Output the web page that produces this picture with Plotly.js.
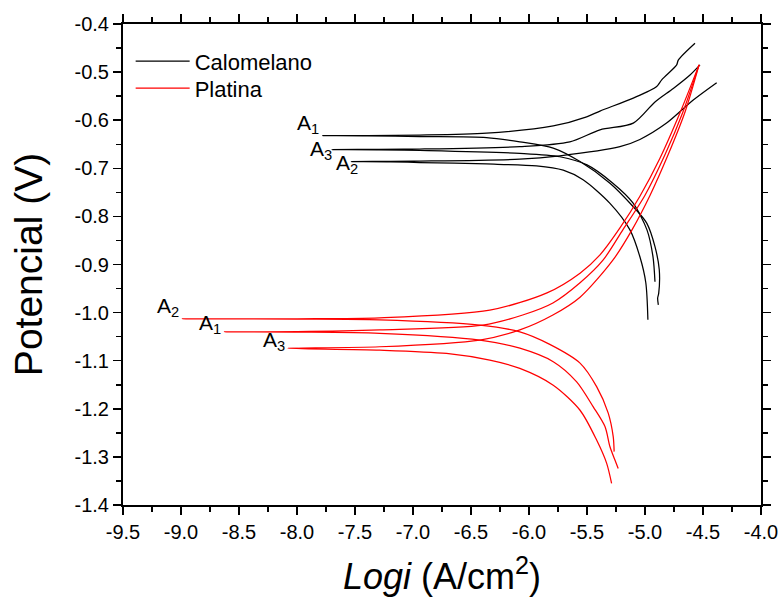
<!DOCTYPE html>
<html>
<head>
<meta charset="utf-8">
<script src="https://cdn.plot.ly/plotly-3.0.1.min.js"></script>
<style>html,body{margin:0;padding:0;background:#fff;}#chart{width:783px;height:606px;}</style>
</head>
<body>
<div id="chart"></div>
<script>
// Calomelano (reference electrode: calomel) — each curve: cathodic end -> corrosion tip -> anodic end
const calA1_logi = [-4.885,-4.891,-4.882,-4.877,-4.914,-4.985,-5.101,-5.302,-5.560,-5.791,-6.079,-6.366,-6.942,-7.393,-7.779,-7.393,-6.942,-6.366,-5.791,-5.503,-5.388,-5.101,-4.899,-4.856,-4.727,-4.713,-4.569];
const calA1_E    = [-0.984,-0.970,-0.960,-0.911,-0.863,-0.814,-0.780,-0.731,-0.686,-0.658,-0.645,-0.636,-0.634,-0.6325,-0.632,-0.6318,-0.631,-0.627,-0.612,-0.593,-0.581,-0.554,-0.530,-0.516,-0.485,-0.475,-0.440];

const calA3_logi = [-4.914,-4.931,-4.983,-5.104,-5.277,-5.500,-5.734,-6.079,-6.942,-7.294,-7.697,-7.294,-6.942,-6.079,-5.648,-5.388,-5.101,-4.914,-4.756,-4.612,-4.526];
const calA3_E    = [-0.936,-0.884,-0.828,-0.772,-0.731,-0.693,-0.676,-0.669,-0.663,-0.6615,-0.661,-0.6605,-0.660,-0.655,-0.645,-0.620,-0.606,-0.562,-0.534,-0.506,-0.485];

const calA2_logi = [-4.975,-4.993,-5.044,-5.130,-5.302,-5.534,-5.705,-5.935,-6.366,-6.942,-7.193,-7.531,-7.193,-6.942,-6.079,-5.734,-5.216,-5.044,-4.814,-4.584,-4.382];
const calA2_E    = [-1.015,-0.938,-0.884,-0.828,-0.773,-0.724,-0.704,-0.695,-0.691,-0.688,-0.6865,-0.686,-0.6855,-0.685,-0.681,-0.674,-0.655,-0.640,-0.606,-0.558,-0.522];

// Platina (reference electrode: platinum)
const ptA2_logi = [-5.266,-5.274,-5.317,-5.417,-5.560,-5.821,-6.079,-6.424,-7.287,-7.998,-8.988,-7.998,-7.287,-6.338,-5.845,-5.560,-5.388,-5.216,-5.044,-4.871,-4.699,-4.534];
const ptA2_E    = [-1.289,-1.258,-1.209,-1.154,-1.105,-1.066,-1.040,-1.026,-1.015,-1.0135,-1.013,-1.0128,-1.011,-0.995,-0.959,-0.918,-0.880,-0.824,-0.758,-0.679,-0.585,-0.485];

const ptA1_logi = [-5.231,-5.260,-5.302,-5.345,-5.446,-5.589,-5.791,-6.079,-6.424,-7.287,-7.998,-8.625,-7.998,-7.287,-6.398,-6.054,-5.794,-5.560,-5.362,-5.191,-5.000,-4.828,-4.673,-4.534];
const ptA1_E    = [-1.324,-1.306,-1.279,-1.237,-1.196,-1.144,-1.102,-1.074,-1.057,-1.043,-1.0405,-1.040,-1.0395,-1.036,-1.026,-1.005,-0.980,-0.938,-0.891,-0.828,-0.756,-0.672,-0.583,-0.485];

const ptA3_logi = [-5.288,-5.331,-5.417,-5.560,-5.791,-6.079,-6.338,-6.711,-7.287,-8.081,-7.287,-6.424,-6.079,-5.794,-5.560,-5.277,-5.112,-4.956,-4.801,-4.655,-4.534];
const ptA3_E    = [-1.355,-1.313,-1.265,-1.203,-1.151,-1.116,-1.099,-1.085,-1.078,-1.074,-1.071,-1.057,-1.036,-1.005,-0.968,-0.891,-0.828,-0.756,-0.672,-0.583,-0.485];

// curve labels (text + the curve tip they sit beside)
const labelText = ['A<sub>1</sub>','A<sub>3</sub>','A<sub>2</sub>','A<sub>2</sub>','A<sub>1</sub>','A<sub>3</sub>'];
const labelX = [-7.779,-7.697,-7.531,-8.988,-8.625,-8.081];
const labelY = [-0.632,-0.661,-0.686,-1.013,-1.040,-1.074];

const seriesNames = ['Calomelano','Platina'];
const xTickVals = [-9.5,-9.0,-8.5,-8.0,-7.5,-7.0,-6.5,-6.0,-5.5,-5.0,-4.5,-4.0];
const xTickText = ['-9.5','-9.0','-8.5','-8.0','-7.5','-7.0','-6.5','-6.0','-5.5','-5.0','-4.5','-4.0'];
const yTickVals = [-0.4,-0.5,-0.6,-0.7,-0.8,-0.9,-1.0,-1.1,-1.2,-1.3,-1.4];
const yTickText = ['-0.4','-0.5','-0.6','-0.7','-0.8','-0.9','-1.0','-1.1','-1.2','-1.3','-1.4'];

// layout only: pixel nudges for the curve labels
const labelXShift = [-2, 2, 9, -1, -2, -1];
const labelYShift = [12, 0, -2, 12, 8, 7];

const FONT = '"Liberation Sans", Arial, Helvetica, sans-serif';
const BLACK = '#000000', RED = '#ff0000';

function tr(x, y, color, name, show, legendId) {
  return {x: x, y: y, type: 'scatter', mode: 'lines', name: name,
    legendgroup: name, showlegend: show, legend: legendId,
    line: {color: color, width: 1.25, shape: 'spline', smoothing: 0.8},
    hoverinfo: 'x+y'};
}

const data = [
  tr(calA1_logi, calA1_E, BLACK, seriesNames[0], true, 'legend'),
  tr(calA3_logi, calA3_E, BLACK, seriesNames[0], false, 'legend'),
  tr(calA2_logi, calA2_E, BLACK, seriesNames[0], false, 'legend'),
  tr(ptA2_logi, ptA2_E, RED, seriesNames[1], true, 'legend2'),
  tr(ptA1_logi, ptA1_E, RED, seriesNames[1], false, 'legend2'),
  tr(ptA3_logi, ptA3_E, RED, seriesNames[1], false, 'legend2')
];

const annotations = labelText.map((t, i) => ({
  x: labelX[i], y: labelY[i], xref: 'x', yref: 'y', text: t, showarrow: false,
  xanchor: 'right', yanchor: 'middle', xshift: labelXShift[i], yshift: labelYShift[i],
  font: {family: FONT, size: 21, color: '#000'}
}));

const axisCommon = {
  showgrid: false, zeroline: false, showline: true, linecolor: '#000', linewidth: 2,
  mirror: 'allticks', ticks: 'outside', ticklen: 8, tickwidth: 1.5, tickcolor: '#000',
  tickfont: {family: FONT, size: 20, color: '#000'},
  tickmode: 'array'
};

const legendCommon = {xanchor: 'left', yanchor: 'top', bgcolor: 'rgba(0,0,0,0)',
  font: {family: FONT, size: 22, color: '#000'}, tracegroupgap: 0, itemwidth: 54};

const layout = {
  width: 783, height: 606,
  margin: {l: 123, r: 22, t: 24, b: 101, pad: 0},
  paper_bgcolor: '#fff', plot_bgcolor: '#fff',
  font: {family: FONT, color: '#000'},
  showlegend: true,
  legend: Object.assign({}, legendCommon, {x: 0.012, y: 0.966}),
  legend2: Object.assign({}, legendCommon, {x: 0.012, y: 0.91}),
  xaxis: Object.assign({}, axisCommon, {
    range: [-9.5, -4.0], tickvals: xTickVals, ticktext: xTickText,
    minor: {dtick: 0.25, ticks: 'outside', ticklen: 5, tickwidth: 1.5, tickcolor: '#000'},
    title: {text: '<i>Logi</i> (A/cm<sup>2</sup>)', font: {family: FONT, size: 36, color: '#000'}, standoff: 22}
  }),
  yaxis: Object.assign({}, axisCommon, {
    range: [-1.4, -0.4], tickvals: yTickVals, ticktext: yTickText,
    minor: {dtick: 0.05, ticks: 'outside', ticklen: 5, tickwidth: 1.5, tickcolor: '#000'},
    title: {text: 'Potencial (V)', font: {family: FONT, size: 39, color: '#000'}, standoff: 20}
  }),
  annotations: annotations
};

Plotly.newPlot('chart', data, layout, {displayModeBar: false, staticPlot: true});
</script>
</body>
</html>
